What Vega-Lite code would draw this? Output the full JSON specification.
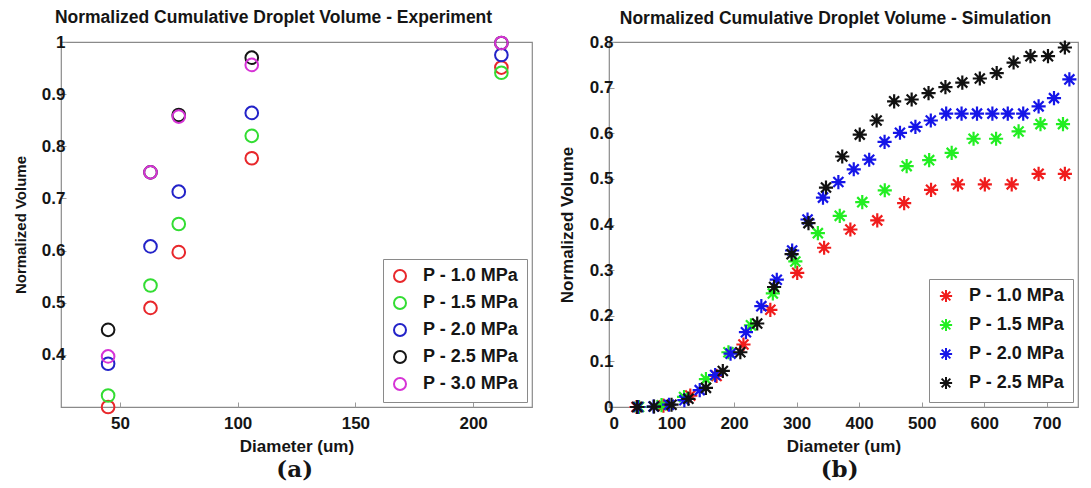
{
  "$schema": "https://vega.github.io/schema/vega-lite/v6.json",
  "padding": {"left": 12, "top": 8, "right": 0, "bottom": 0},
  "background": "white",
  "config": {
    "font": "Liberation Sans",
    "view": {"stroke": "#8a8a8a", "strokeWidth": 1.2},
    "axis": {
      "domain": false, "grid": false, "ticks": true, "tickSize": -5, "tickColor": "#9a9a9a",
      "labelFont": "Liberation Sans", "labelFontWeight": "bold", "labelFontSize": 17, "labelColor": "#151515",
      "titleFont": "Liberation Sans", "titleFontWeight": "bold", "titleFontSize": 15, "titleColor": "#151515"
    },
    "axisX": {"labelPadding": 13, "titleFontSize": 17, "titlePadding": 7},
    "axisY": {"labelPadding": 1, "titlePadding": 13},
    "legend": {
      "orient": "bottom-right", "offset": 5, "padding": 8, "strokeColor": "#8a8a8a", "fillColor": "white",
      "labelFont": "Liberation Sans", "labelFontWeight": "bold", "labelFontSize": 18, "labelColor": "#151515",
      "rowPadding": 7, "labelOffset": 14, "symbolStrokeWidth": 2, "title": null
    },
    "title": {"font": "Liberation Sans", "fontWeight": "bold", "fontSize": 17.5, "color": "#151515"},
    "concat": {"spacing": 24}
  },
  "datasets": {
    "exp": [
      {"d": 45, "v": 0.300, "p": "P - 1.0 MPa"},
      {"d": 63, "v": 0.490, "p": "P - 1.0 MPa"},
      {"d": 75, "v": 0.597, "p": "P - 1.0 MPa"},
      {"d": 106, "v": 0.777, "p": "P - 1.0 MPa"},
      {"d": 212, "v": 0.951, "p": "P - 1.0 MPa"},
      {"d": 45, "v": 0.322, "p": "P - 1.5 MPa"},
      {"d": 63, "v": 0.533, "p": "P - 1.5 MPa"},
      {"d": 75, "v": 0.651, "p": "P - 1.5 MPa"},
      {"d": 106, "v": 0.820, "p": "P - 1.5 MPa"},
      {"d": 212, "v": 0.941, "p": "P - 1.5 MPa"},
      {"d": 45, "v": 0.383, "p": "P - 2.0 MPa"},
      {"d": 63, "v": 0.608, "p": "P - 2.0 MPa"},
      {"d": 75, "v": 0.713, "p": "P - 2.0 MPa"},
      {"d": 106, "v": 0.864, "p": "P - 2.0 MPa"},
      {"d": 212, "v": 0.975, "p": "P - 2.0 MPa"},
      {"d": 45, "v": 0.448, "p": "P - 2.5 MPa"},
      {"d": 63, "v": 0.750, "p": "P - 2.5 MPa"},
      {"d": 75, "v": 0.860, "p": "P - 2.5 MPa"},
      {"d": 106, "v": 0.970, "p": "P - 2.5 MPa"},
      {"d": 212, "v": 0.998, "p": "P - 2.5 MPa"},
      {"d": 45, "v": 0.397, "p": "P - 3.0 MPa"},
      {"d": 63, "v": 0.750, "p": "P - 3.0 MPa"},
      {"d": 75, "v": 0.857, "p": "P - 3.0 MPa"},
      {"d": 106, "v": 0.956, "p": "P - 3.0 MPa"},
      {"d": 212, "v": 0.998, "p": "P - 3.0 MPa"}
    ],
    "sim": [
      {"d": 44, "v": 0.000, "p": "P - 1.0 MPa"},
      {"d": 87, "v": 0.003, "p": "P - 1.0 MPa"},
      {"d": 130, "v": 0.025, "p": "P - 1.0 MPa"},
      {"d": 172, "v": 0.068, "p": "P - 1.0 MPa"},
      {"d": 215, "v": 0.137, "p": "P - 1.0 MPa"},
      {"d": 258, "v": 0.213, "p": "P - 1.0 MPa"},
      {"d": 301, "v": 0.294, "p": "P - 1.0 MPa"},
      {"d": 344, "v": 0.349, "p": "P - 1.0 MPa"},
      {"d": 386, "v": 0.389, "p": "P - 1.0 MPa"},
      {"d": 429, "v": 0.409, "p": "P - 1.0 MPa"},
      {"d": 472, "v": 0.447, "p": "P - 1.0 MPa"},
      {"d": 515, "v": 0.476, "p": "P - 1.0 MPa"},
      {"d": 558, "v": 0.488, "p": "P - 1.0 MPa"},
      {"d": 601, "v": 0.488, "p": "P - 1.0 MPa"},
      {"d": 644, "v": 0.488, "p": "P - 1.0 MPa"},
      {"d": 687, "v": 0.511, "p": "P - 1.0 MPa"},
      {"d": 729, "v": 0.511, "p": "P - 1.0 MPa"},
      {"d": 48, "v": 0.000, "p": "P - 1.5 MPa"},
      {"d": 84, "v": 0.004, "p": "P - 1.5 MPa"},
      {"d": 120, "v": 0.022, "p": "P - 1.5 MPa"},
      {"d": 155, "v": 0.061, "p": "P - 1.5 MPa"},
      {"d": 191, "v": 0.120, "p": "P - 1.5 MPa"},
      {"d": 227, "v": 0.179, "p": "P - 1.5 MPa"},
      {"d": 262, "v": 0.249, "p": "P - 1.5 MPa"},
      {"d": 298, "v": 0.319, "p": "P - 1.5 MPa"},
      {"d": 334, "v": 0.381, "p": "P - 1.5 MPa"},
      {"d": 369, "v": 0.419, "p": "P - 1.5 MPa"},
      {"d": 405, "v": 0.449, "p": "P - 1.5 MPa"},
      {"d": 441, "v": 0.475, "p": "P - 1.5 MPa"},
      {"d": 476, "v": 0.528, "p": "P - 1.5 MPa"},
      {"d": 512, "v": 0.541, "p": "P - 1.5 MPa"},
      {"d": 548, "v": 0.557, "p": "P - 1.5 MPa"},
      {"d": 583, "v": 0.588, "p": "P - 1.5 MPa"},
      {"d": 619, "v": 0.588, "p": "P - 1.5 MPa"},
      {"d": 655, "v": 0.604, "p": "P - 1.5 MPa"},
      {"d": 690, "v": 0.620, "p": "P - 1.5 MPa"},
      {"d": 726, "v": 0.620, "p": "P - 1.5 MPa"},
      {"d": 46.6, "v": 0.000, "p": "P - 2.0 MPa"},
      {"d": 71.2, "v": 0.001, "p": "P - 2.0 MPa"},
      {"d": 95.9, "v": 0.005, "p": "P - 2.0 MPa"},
      {"d": 120.5, "v": 0.015, "p": "P - 2.0 MPa"},
      {"d": 145.1, "v": 0.037, "p": "P - 2.0 MPa"},
      {"d": 169.8, "v": 0.070, "p": "P - 2.0 MPa"},
      {"d": 194.4, "v": 0.117, "p": "P - 2.0 MPa"},
      {"d": 219, "v": 0.164, "p": "P - 2.0 MPa"},
      {"d": 243.6, "v": 0.221, "p": "P - 2.0 MPa"},
      {"d": 268.3, "v": 0.279, "p": "P - 2.0 MPa"},
      {"d": 292.9, "v": 0.343, "p": "P - 2.0 MPa"},
      {"d": 317.5, "v": 0.411, "p": "P - 2.0 MPa"},
      {"d": 342.2, "v": 0.459, "p": "P - 2.0 MPa"},
      {"d": 366.8, "v": 0.493, "p": "P - 2.0 MPa"},
      {"d": 391.4, "v": 0.521, "p": "P - 2.0 MPa"},
      {"d": 416.1, "v": 0.542, "p": "P - 2.0 MPa"},
      {"d": 440.7, "v": 0.581, "p": "P - 2.0 MPa"},
      {"d": 465.3, "v": 0.601, "p": "P - 2.0 MPa"},
      {"d": 490, "v": 0.614, "p": "P - 2.0 MPa"},
      {"d": 514.6, "v": 0.628, "p": "P - 2.0 MPa"},
      {"d": 539.2, "v": 0.643, "p": "P - 2.0 MPa"},
      {"d": 563.8, "v": 0.643, "p": "P - 2.0 MPa"},
      {"d": 588.5, "v": 0.643, "p": "P - 2.0 MPa"},
      {"d": 613.1, "v": 0.643, "p": "P - 2.0 MPa"},
      {"d": 637.7, "v": 0.643, "p": "P - 2.0 MPa"},
      {"d": 662.4, "v": 0.643, "p": "P - 2.0 MPa"},
      {"d": 687, "v": 0.659, "p": "P - 2.0 MPa"},
      {"d": 711.6, "v": 0.677, "p": "P - 2.0 MPa"},
      {"d": 736.2, "v": 0.718, "p": "P - 2.0 MPa"},
      {"d": 45, "v": 0.000, "p": "P - 2.5 MPa"},
      {"d": 72, "v": 0.001, "p": "P - 2.5 MPa"},
      {"d": 100, "v": 0.005, "p": "P - 2.5 MPa"},
      {"d": 127, "v": 0.018, "p": "P - 2.5 MPa"},
      {"d": 155, "v": 0.042, "p": "P - 2.5 MPa"},
      {"d": 182, "v": 0.079, "p": "P - 2.5 MPa"},
      {"d": 210, "v": 0.120, "p": "P - 2.5 MPa"},
      {"d": 237, "v": 0.183, "p": "P - 2.5 MPa"},
      {"d": 264, "v": 0.263, "p": "P - 2.5 MPa"},
      {"d": 292, "v": 0.335, "p": "P - 2.5 MPa"},
      {"d": 319, "v": 0.403, "p": "P - 2.5 MPa"},
      {"d": 347, "v": 0.481, "p": "P - 2.5 MPa"},
      {"d": 373, "v": 0.549, "p": "P - 2.5 MPa"},
      {"d": 401, "v": 0.597, "p": "P - 2.5 MPa"},
      {"d": 428, "v": 0.628, "p": "P - 2.5 MPa"},
      {"d": 456, "v": 0.670, "p": "P - 2.5 MPa"},
      {"d": 484, "v": 0.674, "p": "P - 2.5 MPa"},
      {"d": 511, "v": 0.688, "p": "P - 2.5 MPa"},
      {"d": 538, "v": 0.701, "p": "P - 2.5 MPa"},
      {"d": 565, "v": 0.711, "p": "P - 2.5 MPa"},
      {"d": 593, "v": 0.720, "p": "P - 2.5 MPa"},
      {"d": 620, "v": 0.732, "p": "P - 2.5 MPa"},
      {"d": 647, "v": 0.755, "p": "P - 2.5 MPa"},
      {"d": 674, "v": 0.769, "p": "P - 2.5 MPa"},
      {"d": 702, "v": 0.769, "p": "P - 2.5 MPa"},
      {"d": 729, "v": 0.788, "p": "P - 2.5 MPa"}
    ]
  },
  "resolve": {"scale": {"color": "independent"}, "legend": {"color": "independent"}},
  "hconcat": [
    {
      "title": {"text": "(a)", "orient": "bottom", "anchor": "middle", "font": "DejaVu Serif", "fontSize": 23, "fontWeight": "bold", "offset": 4, "dx": 22},
      "resolve": {"scale": {"color": "independent"}, "legend": {"color": "independent"}},
      "vconcat": [
        {
          "title": {"text": "Normalized Cumulative Droplet Volume - Experiment", "anchor": "middle", "dx": -23, "offset": 6},
          "width": 471,
          "height": 365,
          "data": {"name": "exp"},
          "mark": {"type": "point", "shape": "circle", "filled": false, "size": 160, "strokeWidth": 2, "opacity": 1},
          "encoding": {
            "x": {"field": "d", "type": "quantitative", "scale": {"domain": [25, 225], "nice": false, "zero": false},
                  "axis": {"values": [50, 100, 150, 200], "title": "Diameter (um)"}},
            "y": {"field": "v", "type": "quantitative", "scale": {"domain": [0.3, 1], "nice": false, "zero": false},
                  "axis": {"values": [0.4, 0.5, 0.6, 0.7, 0.8, 0.9, 1], "format": "~g", "title": "Normalized Volume"}},
            "color": {"field": "p", "type": "nominal",
                      "scale": {"domain": ["P - 1.0 MPa", "P - 1.5 MPa", "P - 2.0 MPa", "P - 2.5 MPa", "P - 3.0 MPa"],
                                "range": ["#e8272b", "#33dd33", "#2323c8", "#151515", "#d633d6"]},
                      "legend": {"symbolType": "circle", "symbolSize": 144, "symbolFillColor": "transparent"}}
          }
        }
      ]
    },
    {
      "title": {"text": "(b)", "orient": "bottom", "anchor": "middle", "font": "DejaVu Serif", "fontSize": 23, "fontWeight": "bold", "offset": 4, "dx": 20},
      "resolve": {"scale": {"color": "independent"}, "legend": {"color": "independent"}},
      "vconcat": [
        {
          "title": {"text": "Normalized Cumulative Droplet Volume - Simulation", "anchor": "middle", "dx": -8, "offset": 6},
          "width": 469,
          "height": 365,
          "data": {"name": "sim"},
          "mark": {"type": "point", "shape": "M-1,0L1,0M0,-1L0,1M-0.71,-0.71L0.71,0.71M-0.71,0.71L0.71,-0.71", "filled": false, "size": 200, "strokeWidth": 2.2, "opacity": 1},
          "encoding": {
            "x": {"field": "d", "type": "quantitative", "scale": {"domain": [0, 750], "nice": false, "zero": false},
                  "axis": {"values": [0, 100, 200, 300, 400, 500, 600, 700], "title": "Diameter (um)"}},
            "y": {"field": "v", "type": "quantitative", "scale": {"domain": [0, 0.8], "nice": false, "zero": false},
                  "axis": {"values": [0, 0.1, 0.2, 0.3, 0.4, 0.5, 0.6, 0.7, 0.8], "format": "~g", "title": "Normalized Volume", "titleFontSize": 17}},
            "color": {"field": "p", "type": "nominal",
                      "scale": {"domain": ["P - 1.0 MPa", "P - 1.5 MPa", "P - 2.0 MPa", "P - 2.5 MPa"],
                                "range": ["#f01c1c", "#22ee22", "#1515e8", "#111111"]},
                      "legend": {"symbolType": "M-1,0L1,0M0,-1L0,1M-0.71,-0.71L0.71,0.71M-0.71,0.71L0.71,-0.71", "symbolSize": 150, "symbolFillColor": "transparent"}}
          }
        }
      ]
    }
  ]
}
